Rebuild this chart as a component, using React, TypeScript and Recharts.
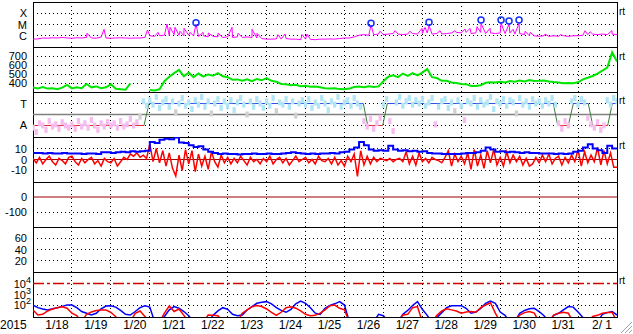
import React from "react";
import {
  ComposedChart,
  Line,
  Scatter,
  XAxis,
  YAxis,
  ReferenceLine,
  ReferenceArea,
} from "recharts";

const FONT = '"Liberation Sans", Arial, Helvetica, sans-serif';
const W = 633;
const PAD = 10;
const P_H = 45;

// panel tops, top to bottom
const P_TOP = [2, 47, 92, 137, 182, 227, 272];

const DAY_LINES = [1, 2, 3, 4, 5, 6, 7, 8, 9, 10, 11, 12, 13, 14];
const DATE_LABELS = [
  "1/18", "1/19", "1/20", "1/21", "1/22", "1/23", "1/24", "1/25",
  "1/26", "1/27", "1/28", "1/29", "1/30", "1/31", "2/ 1",
];
const LABEL_T = DATE_LABELS.map((_, k) => k + 0.615);

// X-ray flux, log10 W/m2, 8 samples per day
const XRAY_BASE = [
  -6.3, -6.28, -6.2, -6.22, -6.18, -6.2, -6.15, -6.2,
  -6.22, -6.18, -6.2, -6.15, -6.2, -6.22, -6.12, -6.2,
  -6.22, -6.2, -6.18, -6.2, -6.22, -6.2, -6.2, -6.15,
  -6.0, -6.05, -6.0, -5.95, -6.0, -5.9, -5.95, -6.0,
  -5.95, -6.0, -6.05, -6.0, -6.1, -6.05, -6.1, -6.15,
  -6.1, -6.15, -6.1, -6.15, -6.1, -6.15, -6.2, -6.25,
  -6.3, -6.3, -6.28, -6.3, -6.25, -6.3, -6.3, -6.35,
  -6.3, -6.32, -6.35, -6.3, -6.3, -6.28, -6.3, -6.25,
  -6.2, -6.2, -6.1, -5.95, -5.9, -5.95, -5.9, -5.85,
  -5.9, -5.85, -5.8, -5.85, -5.9, -5.85, -5.8, -5.85,
  -5.8, -5.75, -5.85, -5.8, -5.85, -5.8, -5.75, -5.7,
  -5.75, -5.7, -5.8, -5.75, -5.7, -5.8, -5.75, -5.8,
  -5.75, -5.8, -5.75, -5.85, -5.8, -5.9, -6.0, -6.0,
  -6.05, -6.0, -6.05, -6.0, -6.05, -6.0, -6.05, -6.0,
  -6.0, -5.95, -5.9, -5.85, -5.9, -5.85, -5.9, -5.85,
  -5.9,
];

// flare spikes [day, log10 flux]
const XRAY_SPIKES: [number, number][] = [
  [1.387, -5.78], [1.824, -5.43], [2.94, -5.49], [3.21, -5.7], [3.442, -4.96],
  [3.52, -5.25], [3.648, -5.25], [3.776, -5.6], [3.879, -5.34], [4.03, -5.7],
  [4.187, -4.96], [4.37, -5.7], [4.5, -5.75], [4.752, -5.78], [5.112, -5.25],
  [5.266, -5.78], [5.626, -5.43], [5.754, -5.78], [6.293, -5.9], [6.473, -5.85],
  [6.91, -5.9], [7.038, -5.85], [8.682, -5.04], [8.91, -5.6], [9.3, -5.55],
  [9.68, -5.6], [9.993, -5.34], [10.07, -5.25], [10.172, -5.11], [10.455, -5.55],
  [10.84, -5.55], [11.097, -5.4], [11.225, -5.34], [11.405, -5.2], [11.508, -4.9],
  [11.739, -5.34], [12.022, -4.84], [12.07, -5.34], [12.227, -4.96], [12.33, -5.43],
  [12.484, -4.9], [12.64, -5.6], [12.77, -5.7], [13.15, -5.85], [13.54, -5.9],
  [14.18, -5.55], [14.31, -5.65], [14.87, -5.55],
];

// M-class flare markers [day, level]
const FLARES: [number, number][] = [
  [4.187, -4.84], [8.682, -4.89], [10.172, -4.8], [11.508, -4.6],
  [12.022, -4.6], [12.227, -4.69], [12.484, -4.6],
];

// solar wind speed km/s, 8 per day
const SPEED = [
  350, 340, 355, 338, 342, 332, 348, 378,
  340, 352, 342, 390, 352, 362, 343, 352,
  385, 335, 330, 325, 395, null, null, null,
  322, 318, 330, 420, 470, 510, 545, 475,
  515, 465, 505, 470, 495, 480, 510, 475,
  465, 435, 440, 425, 440, 420, 445, 430,
  455, 425, 415, 390, 385, 375, 380, 365,
  368, 358, 362, 352, 342, 338, 342, 332,
  330, 338, 356, 362, 352, 364, 356, 362,
  420, 470, 485, 465, 505, 480, 510, 485,
  515, 555, 465, 455, 425, 425, 405, 400,
  388, 387, 368, 367, 375, 402, 408, 406,
  414, 406, 422, 414, 428, 418, 432, 422,
  424, 428, 416, 410, 406, 398, 400, 398,
  408, 440, 458, 478, 505, 538, 572, 740,
  640,
];

// IMF sector: T = 1, A = -1
const SECTOR_T = [
  0, 2.851, 2.98, 8.484, 8.597, 8.982, 9.1, 13.364,
  13.477, 13.749, 13.878, 14.263, 14.376, 14.761, 14.879, 15,
];
const SECTOR_V = [-1, -1, 1, 1, -1, -1, 1, 1, -1, -1, 1, 1, -1, -1, 1, 1];

// field angle, 12 per day
const PHI = [
  -1.2, -1.6, -0.8, -1.0, -1.4, -0.6, -1.1, -0.9, -1.3, -0.7, -1.0, -1.2,
  -0.9, -1.3, -0.6, -1.1, -0.8, -1.2, -0.5, -1.0, -1.4, -0.8, -1.1, -0.7,
  -1.0, -0.8, -1.2, -0.6, -1.1, -0.9, -0.4, -1.0, -0.7, -0.2, 1.2, 0.8,
  1.3, 0.9, 1.6, 0.6, 1.1, 1.4, 0.7, 1.2, 0.2, 1.0, 1.5, 0.8,
  1.1, 0.5, 1.3, 0.9, 1.6, 0.7, 1.2, 0.1, 1.0, 1.4, 0.6, 1.2,
  0.8, 1.3, 0.4, 1.1, 1.5, 0.9, 0.0, 1.2, 0.7, 1.4, 1.0, 0.6,
  1.2, 0.8, 1.5, 0.3, 1.1, 0.9, 1.4, 0.7, 1.2, -0.1, 1.0, 1.3,
  0.9, 1.4, 0.6, 1.1, 0.8, 1.5, 1.0, 0.4, 1.2, 0.9, 1.6, 0.7,
  1.1, 1.3, 0.8, 1.5, 1.0, 0.7, -0.6, -1.1, -0.4, -1.3, -0.8, -0.3,
  0.9, 1.4, -0.6, -1.5, 1.1, 1.6, 0.8, 1.2, 1.5, 0.9, 1.3, 1.0,
  1.4, 0.8, 1.1, 1.5, -0.9, 0.7, 1.2, 1.4, 0.6, 1.1, 0.3, 1.3,
  0.8, -0.5, 1.2, 1.0, 1.5, 0.7, 1.3, 0.9, 1.1, 1.6, 0.5, 1.2,
  1.0, 1.4, 0.8, 1.3, 1.1, 0.1, 1.5, 0.9, 1.2, 0.7, 1.4, 1.0,
  1.2, 0.8, 1.3, 1.0, 1.5, 0.9, -0.8, -1.3, -0.6, -1.0, 1.2, 1.5,
  0.9, 1.4, 1.1, -0.3, -0.9, -1.2, -0.7, -1.4, -1.0, 1.3, 0.9, 1.5,
  1.2,
];

// Bt nT, 8 per day
const BT = [
  6, 6, 5.5, 6, 5.5, 5.5, 6, 5.5,
  5.5, 5.5, 5, 5.5, 5.5, 5, 6.5, 6.5,
  6, 6.5, 7, 6.5, 7.5, 7, 7.5, 8,
  16, 15, 18, 19, 18.5, 20, 15.5, 15,
  13, 11.5, 12, 9, 7, 6, 5, 5.5,
  5, 5, 4.5, 5, 5, 5.5, 5, 5,
  5.5, 5, 5, 5.5, 6, 6.5, 6, 5.5,
  5, 5.5, 5, 5.5, 5.5, 6, 5.5, 6.5,
  7, 9, 11, 16, 13, 9, 8, 8.5,
  8, 12.5, 9, 8, 8.5, 7.5, 8, 7,
  7.5, 6, 5.5, 5.5, 5, 5, 5, 5,
  5.5, 6, 6, 6.5, 8, 11, 9, 7,
  7.5, 6.5, 7, 6.5, 6, 6.5, 6, 6,
  5.5, 5.5, 5.5, 5, 5.5, 5, 5.5, 7,
  8, 11, 14, 10, 8.5, 6, 12.5, 10,
  10.5,
];

// Bz nT, 12 per day
const BZ = [
  1, -3, 2, -4, 0, 3, -2, -5, 1, -1, -4, 2,
  3, -2, -5, 1, -3, 0, 2, -4, -1, -6, 1, -2,
  -3, 1, -6, -2, 2, 0, 5, 3, 6, 2, 4, 1,
  14, -2, 10, -3, 8, -6, 6, -8, -15, 4, -10, 9,
  -4, 8, -11, 5, -6, 3, -9, 7, -2, -7, 4, -3,
  2, -4, 1, -3, 3, -1, -5, 2, -2, 0, -4, 1,
  -2, 3, -4, 0, 2, -3, 1, -5, -1, 3, -2, 0,
  2, -3, 0, -4, 3, -1, -2, 1, -4, 2, -5, -1,
  -6, 3, -2, 5, -15.5, 8, -5, 3, -4, 2, -2, 1,
  0, -1, 1, -2, 0, 1, -2, 7, -4, 3, -5, 6,
  -2, 1, -3, 2, 0, -1, -3, 2, 8, -6, 5, -2,
  3, -4, 6, -9, 9, -6, 4, -8, 8, -3, 9, -5,
  2, -6, 7, -3, 4, -2, 3, -5, 1, -6, -4, 2,
  -3, 4, -2, 5, -4, 1, 3, -5, 2, -3, 4, -2,
  9, -6, 7, -3, 4, -2, 11, -5, 8, -4, 6, -7,
  -7,
];

// electron flux log10, 8 per day (0.5 = off scale)
const E_HIGH = [
  2.04, 1.8, 1.68, 1.59, 1.7, 1.8, 1.92, 2.04,
  2.04, 1.8, 1.45, 1.29, 1.13, 1.29, 1.7, 1.95,
  1.98, 1.85, 1.55, 1.2, 1.13, 1.45, 1.8, 1.98,
  1.85, 0.5, 0.5, 1.0, 1.6, 1.9, 1.75, 1.45,
  1.07, 0.5, 0.5, 0.5, 0.5, 1.1, 1.5, 1.8,
  1.65, 1.2, 1.07, 1.13, 1.59, 1.9, 2.2, 2.3,
  2.35, 2.15, 1.8, 1.55, 1.38, 1.65, 2.15, 2.4,
  2.2, 1.8, 1.3, 1.19, 1.75, 2.0, 2.15, 2.35,
  2.04, 0.5, 0.5, 0.5, 0.5, 0.5, 0.5, 1.19,
  1.07, 0.5, 0.5, 0.5, 1.2, 1.55, 2.0, 2.35,
  1.65, 1.1, 0.5, 0.9, 1.35, 1.8, 1.98, 1.98,
  1.98, 1.74, 1.29, 1.4, 1.74, 2.2, 2.4, 2.2,
  1.4, 1.1, 0.5, 0.5, 1.29, 1.55, 1.7, 1.74,
  1.45, 1.07, 0.5, 1.1, 1.29, 1.6, 1.9, 1.85,
  1.4, 0.9, 0.5, 0.5, 0.5, 1.2, 1.35, 1.45,
  1.13,
];
const E_LOW = [
  1.59, 1.13, 1.19, 1.5, 1.68, 1.8, 1.89, 1.75,
  1.3, 1.07, 0.5, 1.2, 1.4, 1.55, 1.59, 1.59,
  1.38, 0.98, 0.5, 0.5, 0.5, 1.29, 1.5, 1.0,
  0.5, 0.5, 0.5, 1.3, 1.95, 1.45, 1.68, 1.1,
  0.5, 0.5, 0.5, 0.5, 1.13, 1.1, 1.07, 0.5,
  0.5, 0.5, 0.5, 1.3, 1.6, 1.89, 2.0, 1.9,
  1.68, 1.38, 1.1, 1.38, 1.8, 1.89, 1.75, 1.5,
  1.2, 1.07, 1.1, 1.3, 1.6, 1.98, 2.04, 1.74,
  1.6, 0.5, 0.5, 0.5, 0.5, 0.5, 0.5, 0.5,
  0.5, 0.5, 0.5, 0.5, 1.13, 1.19, 1.8, 1.9,
  0.5, 0.5, 0.5, 1.1, 1.5, 1.7, 1.6, 1.5,
  1.3, 1.4, 1.45, 1.38, 1.8, 2.04, 2.25, 1.3,
  0.5, 0.5, 0.5, 0.5, 1.13, 1.35, 1.45, 1.3,
  0.5, 0.5, 0.5, 1.13, 1.3, 1.38, 1.29, 0.5,
  0.5, 0.5, 0.5, 1.0, 1.1, 1.29, 1.35, 1.38,
  0.5,
];

type Pt = { t: number; v: number | null };
const series = (vals: (number | null)[], perDay: number): Pt[] =>
  vals.map((v, i) => ({ t: i / perDay, v }));

const xrayData = [
  ...series(XRAY_BASE, 8),
  ...XRAY_SPIKES.map(([t, v]) => ({ t, v })),
].sort((a, b) => a.t - b.t);
const flareData = FLARES.map(([t, v]) => ({ t, v }));

const sectorSegs = SECTOR_T.slice(0, -1).map((t, i) => {
  const a = SECTOR_V[i];
  const b = SECTOR_V[i + 1];
  const color = a !== b ? "#3c7a3c" : a > 0 ? "#3050e8" : "#e82020";
  return { color, pts: [{ t, v: a }, { t: SECTOR_T[i + 1], v: b }] };
});

const phiData = series(PHI, 12);
const phiToward = phiData.filter((p) => (p.v as number) >= 0.35);
const phiAway = phiData.filter((p) => (p.v as number) <= -0.25);
const phiMid = phiData.filter((p) => (p.v as number) > -0.25 && (p.v as number) < 0.35);

const dotted = { stroke: "#000", strokeDasharray: "1 3", shapeRendering: "crispEdges" } as const;

const dayLines = () =>
  DAY_LINES.map((d) => <ReferenceLine key={`d${d}`} x={d} {...dotted} />);
const hLines = (vals: number[]) =>
  vals.map((v) => <ReferenceLine key={`h${v}`} y={v} {...dotted} />);

const labelTick = (map?: Record<string, string>) => (props: any) => {
  const { y, payload } = props;
  const text = map ? map[String(payload.value)] : String(payload.value);
  return (
    <text x={27} y={y} dy={4} textAnchor="end" fontSize={11} fontFamily={FONT} fill="#000">
      {text}
    </text>
  );
};

const expTick = (props: any) => {
  const { y, payload } = props;
  return (
    <text x={31} y={y} dy={4} textAnchor="end" fontSize={11} fontFamily={FONT} fill="#000">
      10
      <tspan dy={-5} fontSize={9}>
        {payload.value}
      </tspan>
    </text>
  );
};

const dateTick = (props: any) => {
  const { x, payload } = props;
  const k = Math.round(payload.value - 0.615);
  return (
    <text x={x} y={67} textAnchor="middle" fontSize={12} fontFamily={FONT} fill="#000">
      {DATE_LABELS[k]}
    </text>
  );
};

const phiShape = (color: string) => (p: any) =>
  <rect x={p.cx - 1.65} y={p.cy - 3} width={3.3} height={6} fill={color} />;

type PanelProps = {
  top: number;
  domain: [number, number];
  ticks: number[];
  tick: any;
  withX?: boolean;
  children?: React.ReactNode;
};

function Panel({ top, domain, ticks, tick, withX, children }: PanelProps) {
  return (
    <div style={{ position: "absolute", left: 0, top: top - PAD }}>
      <ComposedChart
        width={W}
        height={PAD + P_H + (withX ? 30 : PAD)}
        margin={{ top: PAD, right: 16, bottom: withX ? 0 : PAD, left: 0 }}
      >
        <XAxis
          type="number"
          dataKey="t"
          domain={[0, 15]}
          allowDataOverflow
          hide={!withX}
          ticks={withX ? LABEL_T : undefined}
          interval={0}
          axisLine={false}
          tickLine={false}
          height={withX ? 30 : undefined}
          tick={dateTick}
        />
        <YAxis
          type="number"
          dataKey="v"
          domain={domain}
          ticks={ticks}
          interval={0}
          tick={tick}
          width={33}
          axisLine={false}
          tickLine={false}
          allowDataOverflow
        />
        {dayLines()}
        {children}
        <ReferenceArea
          x1={0}
          x2={15}
          y1={domain[0]}
          y2={domain[1]}
          fill="none"
          fillOpacity={0}
          stroke="#000"
          strokeWidth={1}
          shapeRendering="crispEdges"
          ifOverflow="visible"
        />
      </ComposedChart>
    </div>
  );
}

const RT_Y = [15, 59.5, 104, 149, 284];

export default function App() {
  return (
    <div
      style={{
        position: "absolute",
        left: 0,
        top: 0,
        width: W,
        height: 334,
        background: "#fff",
        overflow: "hidden",
        fontFamily: FONT,
      }}
    >
      {/* X-ray */}
      <Panel top={P_TOP[0]} domain={[-7, -3]} ticks={[-6, -5, -4]} tick={labelTick({ "-6": "C", "-5": "M", "-4": "X" })}>
        {hLines([-6, -5, -4])}
        <Line data={xrayData} dataKey="v" stroke="#ff00ff" strokeWidth={1} dot={false} isAnimationActive={false} />
        <Line
          data={flareData}
          dataKey="v"
          stroke="none"
          dot={{ r: 3, fill: "none", stroke: "#1030ff", strokeWidth: 1.5 }}
          isAnimationActive={false}
        />
      </Panel>

      {/* solar wind speed */}
      <Panel top={P_TOP[1]} domain={[300, 800]} ticks={[400, 500, 600, 700]} tick={labelTick()}>
        {hLines([400, 500, 600, 700])}
        <Line data={series(SPEED, 8)} dataKey="v" stroke="#00e600" strokeWidth={2} dot={false} isAnimationActive={false} />
      </Panel>

      {/* IMF sector */}
      <Panel top={P_TOP[2]} domain={[-2.05, 2.05]} ticks={[-1, 1]} tick={labelTick({ "-1": "A", "1": "T" })}>
        {hLines([-1, 1])}
        <Scatter data={phiToward} dataKey="v" shape={phiShape("#b2e6f7")} isAnimationActive={false} />
        <Scatter data={phiAway} dataKey="v" shape={phiShape("#f6bcf0")} isAnimationActive={false} />
        <Scatter data={phiMid} dataKey="v" shape={phiShape("#d0d0d0")} isAnimationActive={false} />
        <ReferenceLine y={0} stroke="#808080" strokeWidth={1.5} />
        {sectorSegs.map((s, i) => (
          <Line key={`s${i}`} data={s.pts} dataKey="v" stroke={s.color} strokeWidth={1} dot={false} isAnimationActive={false} />
        ))}
      </Panel>

      {/* Bz / Bt */}
      <Panel top={P_TOP[3]} domain={[-20.5, 20.5]} ticks={[-10, 0, 10]} tick={labelTick()}>
        {hLines([-10, 10])}
        <ReferenceLine y={0} stroke="#a00000" strokeWidth={1} />
        <Line data={series(BZ, 12)} dataKey="v" stroke="#ff0000" strokeWidth={1.5} dot={false} isAnimationActive={false} />
        <Line type="stepAfter" data={series(BT, 8)} dataKey="v" stroke="#0000ff" strokeWidth={2} dot={false} isAnimationActive={false} />
      </Panel>

      {/* Dst */}
      <Panel top={P_TOP[4]} domain={[-200, 100]} ticks={[-100, 0]} tick={labelTick()}>
        {hLines([-100])}
        <ReferenceLine y={0} stroke="#a00000" strokeWidth={1} />
      </Panel>

      {/* lower index panel */}
      <Panel top={P_TOP[5]} domain={[0, 80]} ticks={[20, 40, 60]} tick={labelTick()}>
        {hLines([20, 40, 60])}
      </Panel>

      {/* electrons */}
      <Panel top={P_TOP[6]} domain={[0.95, 5.05]} ticks={[2, 3, 4]} tick={expTick} withX>
        {hLines([2, 3])}
        <ReferenceLine y={4} stroke="#d00000" strokeWidth={1.5} strokeDasharray="11 3 3 3" />
        <Line data={series(E_HIGH, 8)} dataKey="v" stroke="#0000ff" strokeWidth={1.5} dot={false} isAnimationActive={false} />
        <Line data={series(E_LOW, 8)} dataKey="v" stroke="#ff0000" strokeWidth={1.5} dot={false} isAnimationActive={false} />
      </Panel>

      <svg
        width={W}
        height={334}
        style={{ position: "absolute", left: 0, top: 0, pointerEvents: "none" }}
      >
        <text x={0} y={329} fontSize={12} fontFamily={FONT} fill="#000">
          2015
        </text>
        {RT_Y.map((y) => (
          <text key={y} x={619} y={y} fontSize={10} fontFamily={FONT} fill="#000">
            rt
          </text>
        ))}
        <line x1={621} y1={333} x2={632} y2={322} stroke="#a0a0a0" />
        <line x1={625} y1={333} x2={632} y2={326} stroke="#a0a0a0" />
        <line x1={629} y1={333} x2={632} y2={330} stroke="#a0a0a0" />
      </svg>
    </div>
  );
}
